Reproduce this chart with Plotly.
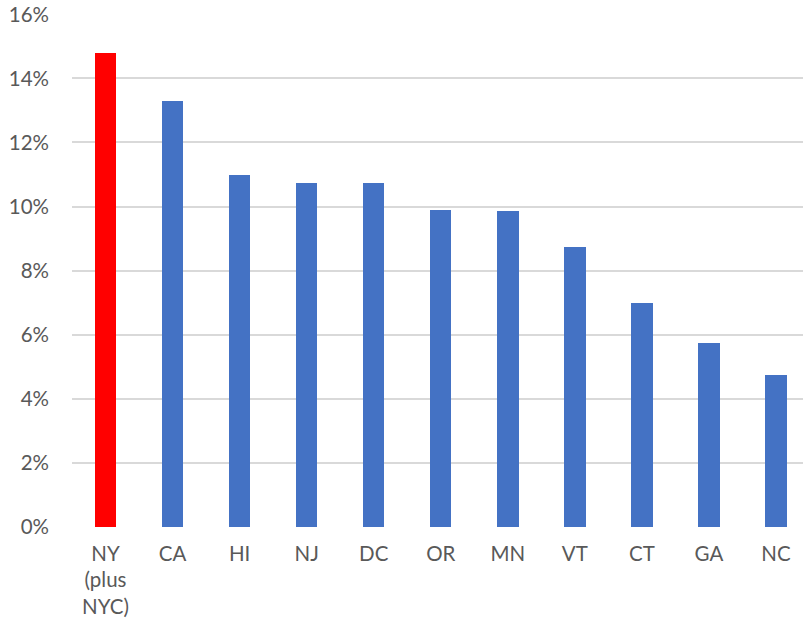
import plotly.graph_objects as go

categories = ["NY<br>(plus<br>NYC)", "CA", "HI", "NJ", "DC", "OR", "MN", "VT", "CT", "GA", "NC"]
values = [14.78, 13.3, 10.98, 10.74, 10.74, 9.89, 9.86, 8.74, 6.99, 5.74, 4.74]
colors = ["#FF0000"] + ["#4472C4"] * 10
y_ticks = [0, 2, 4, 6, 8, 10, 12, 14, 16]
y_labels = [f"{t}%" for t in y_ticks]

fig = go.Figure(go.Bar(x=list(range(len(categories))), y=values, marker_color=colors,
                       width=0.32, marker_line_width=0))
fig.update_layout(
    width=803, height=629,
    margin=dict(l=72, r=0, t=14, b=102),
    plot_bgcolor="white", paper_bgcolor="white",
    font=dict(family="Lato", size=20.5, color="#595959"),
    showlegend=False,
    bargap=0,
)
fig.update_xaxes(tickmode="array", tickvals=list(range(len(categories))), ticktext=categories,
                 range=[-0.5, 10.403], showgrid=False, zeroline=False, showline=False,
                 ticks="", ticklen=0, automargin=False, ticklabelstandoff=12,
                 ticklabeloverflow="allow")
fig.update_yaxes(range=[0, 16.01], tickvals=y_ticks, ticktext=y_labels,
                 showgrid=True, gridcolor="#D9D9D9", gridwidth=1.5, zeroline=False,
                 showline=False, ticks="", ticklabelstandoff=22, automargin=False,
                 ticklabeloverflow="allow")
fig.write_html("out.html", config={"displayModeBar": False},
               post_script="document.body.style.margin='0';")
